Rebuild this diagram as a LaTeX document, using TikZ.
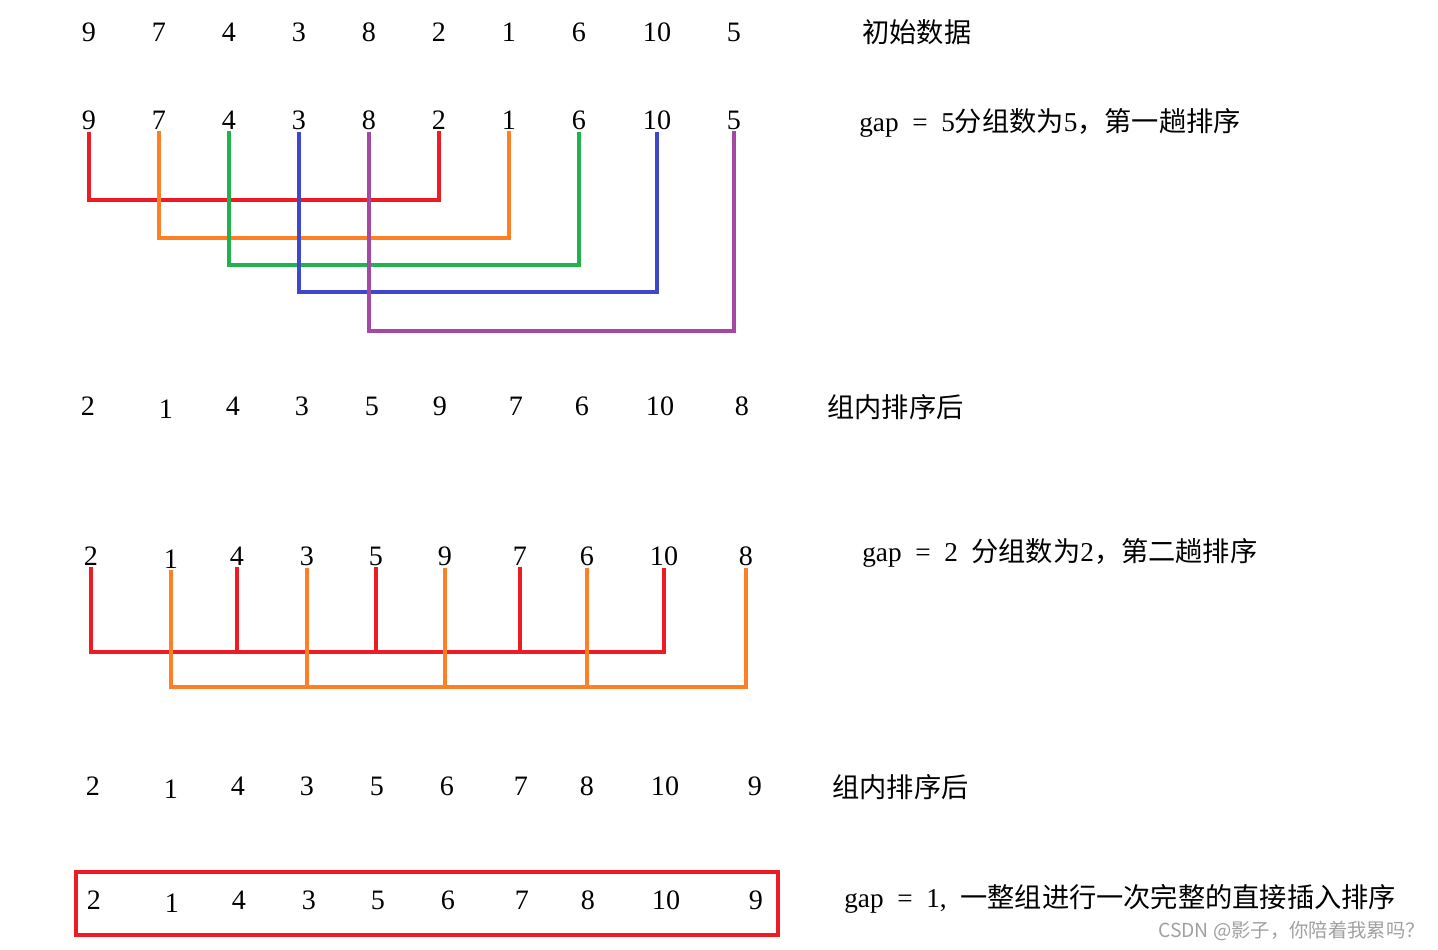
\documentclass[tikz,border=0pt]{standalone}
\usepackage{fontspec}
\setmainfont{Liberation Serif}
\newfontfamily\cjk{Noto Sans CJK SC}
\usepackage{xcolor}
\usepackage{tikz}
\usetikzlibrary{calc}

\definecolor{paintred}{RGB}{237,28,36}
\definecolor{paintorange}{RGB}{255,127,39}
\definecolor{paintgreen}{RGB}{34,177,76}
\definecolor{paintblue}{RGB}{63,72,204}
\definecolor{paintpurple}{RGB}{163,73,164}
\definecolor{markgray}{RGB}{160,160,160}

\begin{document}
\begin{tikzpicture}[
  x=0.02cm, y=-0.02cm,
  num/.style={inner sep=1pt, font=\fontsize{16}{18}\selectfont},
  note/.style={anchor=west, inner sep=0pt, font=\fontsize{15.5}{18}\selectfont},
  grp/.style={line width=2pt}
]
  \useasboundingbox (0,0) rectangle (1438,950);

  % number rows
  \foreach \v/\x [count=\i] in {9/89,7/159,4/229,3/299,8/369,2/439,1/509,6/579,10/657,5/734}
    \node[num] (a\i) at (\x,32) {\v};
  \foreach \v/\x [count=\i] in {9/89,7/159,4/229,3/299,8/369,2/439,1/509,6/579,10/657,5/734}
    \node[num] (b\i) at (\x,120) {\v};
  \foreach \v/\x/\d [count=\i] in {2/88/0,1/166/3,4/233/0,3/302/0,5/372/0,9/440/0,7/516/0,6/582/0,10/660/0,8/742/0}
    \node[num] (c\i) at (\x,406+\d) {\v};
  \foreach \v/\x/\d [count=\i] in {2/91/0,1/171/3,4/237/0,3/307/0,5/376/0,9/445/0,7/520/0,6/587/0,10/664/0,8/746/0}
    \node[num] (d\i) at (\x,556+\d) {\v};
  \foreach \v/\x/\d [count=\i] in {2/93/0,1/171/3,4/238/0,3/307/0,5/377/0,6/447/0,7/521/0,8/587/0,10/665/0,9/755/0}
    \node[num] (e\i) at (\x,786+\d) {\v};
  \foreach \v/\x/\d [count=\i] in {2/94/0,1/172/3,4/239/0,3/309/0,5/378/0,6/448/0,7/522/0,8/588/0,10/666/0,9/756/0}
    \node[num] (f\i) at (\x,900+\d) {\v};

  % notes
  \node[note] (noteA) at (862,32) {\cjk 初始数据};
  \node[note] (noteB) at (859,123) {gap\enspace=\enspace5{\cjk 分组数为}5{\cjk ，第一趟排序}};
  \node[note] (noteC) at (827,407) {\cjk 组内排序后};
  \node[note] (noteD) at (862,553) {gap\enspace=\enspace2\enspace{\cjk 分组数为}2{\cjk ，第二趟排序}};
  \node[note] (noteE) at (832,787) {\cjk 组内排序后};
  \node[note] (noteF) at (844,899) {gap\enspace=\enspace1,\enspace{\cjk 一整组进行一次完整的直接插入排序}};
  \node[anchor=east, inner sep=0pt, text=markgray, font=\cjk\fontsize{11}{13}\selectfont]
    (mark) at (1425,931) {CSDN @影子，你陪着我累吗？};

  % gap = 5 groups
  \coordinate (busR) at (0,200);
  \coordinate (busO) at (0,238);
  \coordinate (busG) at (0,265);
  \coordinate (busB) at (0,292);
  \coordinate (busP) at (0,331);
  \draw[grp, paintred]    (b1.south) |- (b6.south |- busR) -- (b6.south);
  \draw[grp, paintorange] (b2.south) |- (b7.south |- busO) -- (b7.south);
  \draw[grp, paintgreen]  (b3.south) |- (b8.south |- busG) -- (b8.south);
  \draw[grp, paintblue]   (b4.south) |- (b9.south |- busB) -- (b9.south);
  \draw[grp, paintpurple] (b5.south) |- (b10.south |- busP) -- (b10.south);

  % gap = 2 groups
  \coordinate (busE) at (0,652);
  \coordinate (busF) at (0,687);
  \draw[grp, paintred] (d1.south) |- (d9.south |- busE) -- (d9.south);
  \foreach \i in {3,5,7}
    \draw[grp, paintred] (d\i.south) -- (d\i.south |- busE);
  \draw[grp, paintorange] (d2.south) |- (d10.south |- busF) -- (d10.south);
  \foreach \i in {4,6,8}
    \draw[grp, paintorange] (d\i.south) -- (d\i.south |- busF);

  % gap = 1, whole row
  \draw[grp, paintred] (76,872) rectangle (778,935);
\end{tikzpicture}
\end{document}
